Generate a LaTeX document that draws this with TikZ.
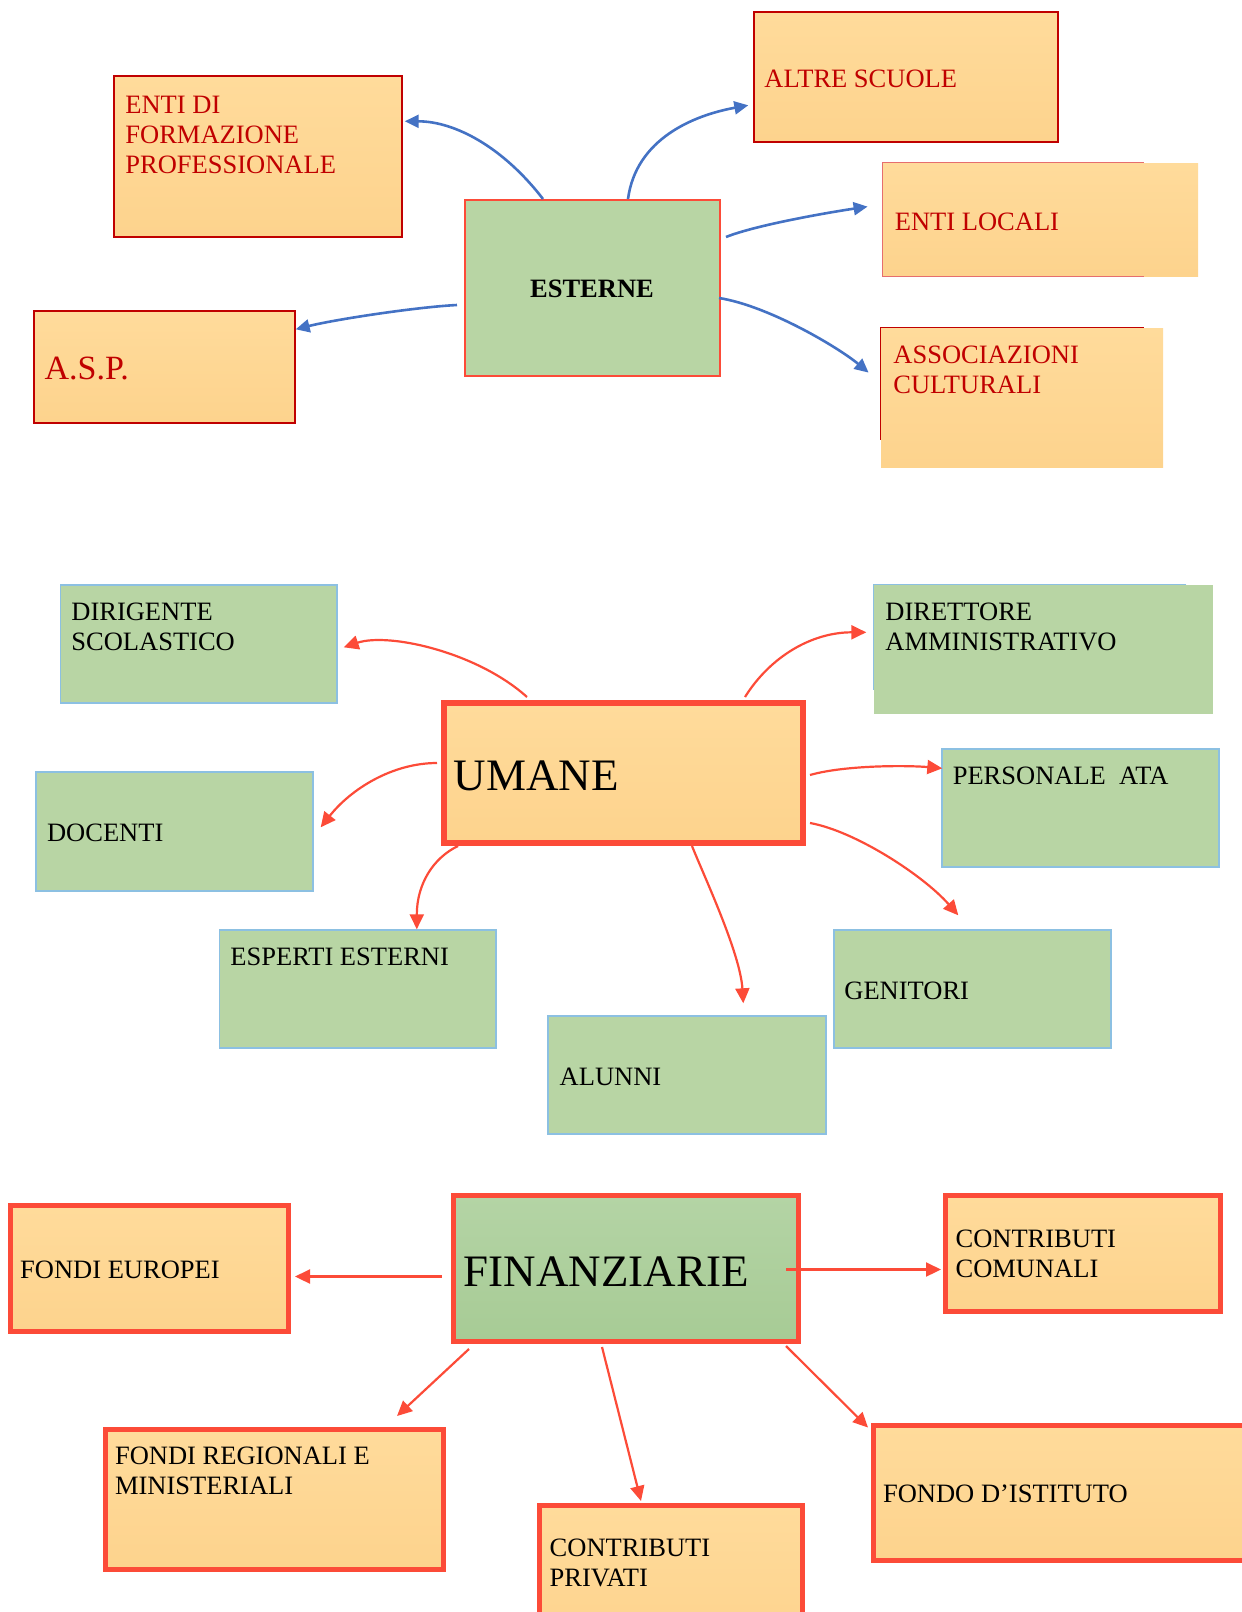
\documentclass[tikz,border=0pt]{standalone}
\usepackage{fontspec}
\setmainfont{Liberation Serif}
\usetikzlibrary{arrows.meta,fit,calc}

\definecolor{orangeA}{RGB}{255,219,155}
\definecolor{orangeB}{RGB}{253,211,141}
\definecolor{greenA}{RGB}{184,213,164}
\definecolor{finA}{RGB}{180,212,165}
\definecolor{finB}{RGB}{167,203,149}
\definecolor{redA}{RGB}{252,75,56}
\definecolor{darkred}{RGB}{192,0,0}
\definecolor{pinkA}{RGB}{230,110,110}
\definecolor{blueA}{RGB}{68,114,196}
\definecolor{lightblue}{RGB}{140,192,226}

\begin{document}
\begin{tikzpicture}[x=0.5pt, y=-0.5pt,
    obox/.style={inner sep=0pt, top color=orangeA, bottom color=orangeB},
    gbox/.style={inner sep=0pt, fill=greenA, draw=lightblue, line width=0.7pt},
    txt/.style={inner sep=0pt, anchor=base west, align=left, font=\fontsize{13.25}{15}\selectfont},
    big/.style={font=\fontsize{22.5}{26}\selectfont},
    bluearr/.style={blueA, line width=1.3pt, -{Triangle[length=7pt,width=6.5pt]}},
    redarr/.style={redA, line width=1.1pt, -{Triangle[length=7.5pt,width=7pt]}}]
    \useasboundingbox (0,0) rectangle (1242,1612);
    \clip (0,0) rectangle (1242,1612);

    % ESTERNE
    \node[gbox, draw=redA, line width=1pt, fit={(465,200) (720,376)}] (esterne) {};
    \node[obox, draw=darkred, line width=0.7pt, fit={(114,76) (402,237)}] (enti) {};
    \node[obox, draw=darkred, line width=0.7pt, fit={(754,12) (1058,142)}] (altre) {};
    \node[obox, fit={(883,163) (1198,276)}] (locali) {};
    \node[obox, draw=darkred, line width=0.7pt, fit={(34,311) (295,423)}] (asp) {};
    \node[obox, fit={(881,328) (1163,467)}] (assoc) {};
    \draw[pinkA, line width=0.7pt] (locali.north west) ++(261,0) -- (locali.north west) -- (locali.south west) -- ++(261,0);
    \draw[darkred, line width=0.7pt] (assoc.north west) ++(263,0) -- (assoc.north west) -- ++(0,112);

    % multi-line labels sit on their last baseline
    \node[txt, anchor=base, font=\fontsize{13.25}{15}\selectfont\bfseries] (esterne-t) at (592,297.3) {ESTERNE};
    \node[txt, text=darkred] (enti-t) at (125,173) {ENTI DI\\FORMAZIONE\\PROFESSIONALE};
    \node[txt, text=darkred] (altre-t) at (764,87.3) {ALTRE SCUOLE};
    \node[txt, text=darkred] (locali-t) at (894.5,230) {ENTI LOCALI};
    \node[txt, text=darkred, font=\fontsize{17}{20}\selectfont] (asp-t) at (44.3,379.3) {A.S.P.};
    \node[txt, text=darkred] (assoc-t) at (893,393.3) {ASSOCIAZIONI\\CULTURALI};

    \draw[bluearr] ($(esterne.north west)+(79,0)$) .. controls +(-40,-52) and +(50,0) .. ($(enti.north east)+(2,46)$);
    \draw[bluearr] ($(esterne.north west)+(164,0)$) .. controls +(8,-60) and +(-55,10) .. ($(altre.north west)+(-5,94)$);
    \draw[bluearr] ($(esterne.north east)+(5,38)$) .. controls +(30,-12) and +(-40,6) .. ($(locali.north west)+(-15,44)$);
    \draw[bluearr] ($(esterne.south west)+(-7,-72)$) .. controls +(-40,2) and +(40,-10) .. ($(asp.north east)+(0,19)$);
    \draw[bluearr] ($(esterne.north east)+(-2,99)$) .. controls +(50,8) and +(-30,-25) .. ($(assoc.north west)+(-12,45)$);

    % UMANE
    \node[obox, draw=redA, line width=3pt, fit={(444,703) (803,843)}] (umane) {};
    \node[gbox, fit={(60.5,585) (337,703)}] (dirig) {};
    \node[gbox, draw=none, fit={(874,585) (1213,714)}] (dirett) {};
    \node[gbox, fit={(36,772) (313,891)}] (docenti) {};
    \node[gbox, fit={(942,749) (1219,867)}] (personale) {};
    \node[gbox, fit={(219.5,930) (496,1048)}] (esperti) {};
    \node[gbox, fit={(834,930) (1111,1048)}] (genitori) {};
    \node[gbox, fit={(548,1016) (826,1134)}] (alunni) {};
    \draw[lightblue, line width=0.7pt] (dirett.north west) ++(313,0) -- (dirett.north west) -- ++(0,106);

    \node[txt, big] (umane-t) at (453.5,790) {UMANE};
    \node[txt] (dirig-t) at (71,650) {DIRIGENTE\\SCOLASTICO};
    \node[txt] (dirett-t) at (885,650) {DIRETTORE\\AMMINISTRATIVO};
    \node[txt] (docenti-t) at (46.7,841.7) {DOCENTI};
    \node[txt] (personale-t) at (952.4,784.5) {PERSONALE\ \ ATA};
    \node[txt] (esperti-t) at (230,965) {ESPERTI ESTERNI};
    \node[txt] (genitori-t) at (844,999) {GENITORI};
    \node[txt] (alunni-t) at (559.3,1085) {ALUNNI};

    \draw[redarr] ($(umane.north west)+(86,-3)$) .. controls +(-50,-45) and +(45,-15) .. ($(dirig.north east)+(6,63)$);
    \draw[redarr] ($(umane.north east)+(-61,-3)$) .. controls +(25,-40) and +(-55,0) .. ($(dirett.north west)+(-7,48)$);
    \draw[redarr] ($(umane.north west)+(-4,63)$) .. controls +(-45,0) and +(30,-38) .. ($(docenti.north east)+(7,56)$);
    \draw[redarr] ($(umane.south west)+(17,0)$) .. controls +(-25,12) and +(0,-45) .. ($(esperti.north west)+(198,0)$);
    \draw[redarr] ($(umane.south east)+(-114,0)$) .. controls +(12,30) and +(-3,-50) .. ($(alunni.north west)+(196,-12)$);
    \draw[redarr] ($(umane.north east)+(4,75)$) .. controls +(35,-10) and +(-35,-3) .. ($(personale.north west)+(1,20)$);
    \draw[redarr] ($(umane.south east)+(4,-23)$) .. controls +(45,8) and +(-35,-40) .. ($(genitori.north west)+(125,-14)$);

    % FINANZIARIE
    \node[inner sep=0pt, top color=finA, bottom color=finB, draw=redA, line width=2.5pt, fit={(453.5,1195.5) (798.5,1341.5)}] (finanz) {};
    \node[obox, draw=redA, line width=2.5pt, fit={(10.5,1205.5) (288.5,1331.5)}] (europei) {};
    \node[obox, draw=redA, line width=2.5pt, fit={(945.5,1195.5) (1220,1311.5)}] (comunali) {};
    \node[obox, draw=redA, line width=2.5pt, fit={(105.5,1429.5) (443.5,1569.5)}] (regionali) {};
    \node[obox, draw=redA, line width=2.5pt, fit={(539.5,1505.5) (802.5,1650)}] (privati) {};
    \node[obox, draw=redA, line width=2.5pt, fit={(873.5,1425.5) (1270,1560.5)}] (fondo) {};

    \node[txt, big] (finanz-t) at (463.4,1286) {FINANZIARIE};
    \node[txt] (europei-t) at (19.8,1278.3) {FONDI EUROPEI};
    \node[txt] (comunali-t) at (955.2,1277.7) {CONTRIBUTI\\COMUNALI};
    \node[txt] (regionali-t) at (114.7,1494) {FONDI REGIONALI E\\MINISTERIALI};
    \node[txt] (privati-t) at (549.3,1586.7) {CONTRIBUTI\\PRIVATI};
    \node[txt] (fondo-t) at (882.7,1502.7) {FONDO D’ISTITUTO};

    \draw[redarr] ($(finanz.west)+(-9,8)$) -- ($(europei.east)+(4,8)$);
    \draw[redarr] ($(finanz.east)+(-15,1)$) -- ($(comunali.west)+(-2,16)$);
    \draw[redarr] ($(finanz.south west)+(18,5)$) -- ($(regionali.north west)+(294,-11)$);
    \draw[redarr] ($(finanz.south west)+(151,3)$) -- ($(privati.north west)+(104,-2)$);
    \draw[redarr] ($(finanz.south east)+(-15,2)$) -- ($(fondo.north west)+(-3,4.5)$);
\end{tikzpicture}
\end{document}
